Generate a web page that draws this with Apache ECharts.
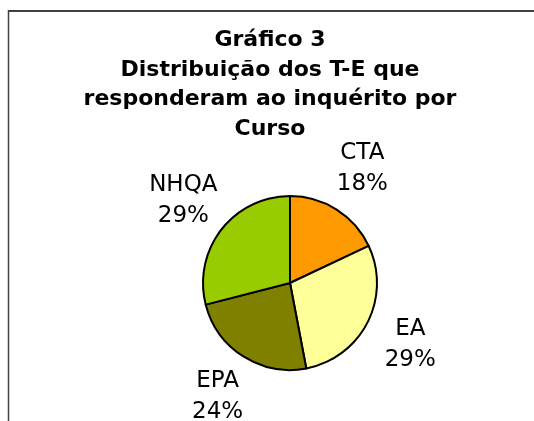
<!DOCTYPE html>
<html>
<head>
<meta charset="utf-8">
<script src="https://cdn.jsdelivr.net/npm/echarts@6/dist/echarts.min.js"></script>
<style>
  html, body { margin: 0; padding: 0; background: #fff; }
  #chartDom { width: 534px; height: 421px; }
</style>
</head>
<body>
<div id="chartDom"></div>
<script>
/* dados do gráfico */
const cursos = ['CTA', 'EA', 'EPA', 'NHQA'];
const percentagens = [18, 29, 24, 29];
const cores = ['#FF9900', '#FFFF99', '#808000', '#99CC00'];

const centro = [290, 283];
const raio = 87;
const distLabel = 135;

/* ângulo médio de cada fatia, a partir do topo, sentido horário */
const total = percentagens.reduce((a, b) => a + b, 0);
const angulos = [];
let acum = 0;
percentagens.forEach(v => {
  angulos.push((acum + v / 2) / total * Math.PI * 2);
  acum += v;
});

const chart = echarts.init(document.getElementById('chartDom'));
const option = {
  animation: false,
  title: {
    text: 'Gráfico 3\nDistribuição dos T-E que\nresponderam ao inquérito por\nCurso',
    left: 270,
    textAlign: 'center',
    top: 26,
    padding: 0,
    textStyle: {
      fontFamily: 'DejaVu Sans',
      fontWeight: 'bold',
      fontSize: 22,
      lineHeight: 29.5,
      color: '#000'
    }
  },
  graphic: [
    { type: 'line', shape: { x1: 8, y1: 11, x2: 534, y2: 11 }, style: { stroke: '#404040', lineWidth: 2 } },
    { type: 'line', shape: { x1: 8.5, y1: 10, x2: 8.5, y2: 421 }, style: { stroke: '#404040', lineWidth: 1.5 } }
  ],
  series: [
    {
      type: 'pie',
      center: centro,
      radius: raio,
      startAngle: 90,
      clockwise: true,
      silent: true,
      emphasis: { disabled: true },
      itemStyle: { borderColor: '#000', borderWidth: 2 },
      label: {
        show: true,
        position: 'outside',
        formatter: p => p.name + '\n' + Math.round(p.percent) + '%',
        fontFamily: 'DejaVu Sans',
        fontSize: 23,
        lineHeight: 31,
        color: '#000'
      },
      labelLine: { show: false },
      labelLayout: params => {
        const a = angulos[params.dataIndex];
        return {
          x: centro[0] + distLabel * Math.sin(a),
          y: centro[1] - distLabel * Math.cos(a),
          align: 'center',
          verticalAlign: 'middle'
        };
      },
      data: cursos.map((c, i) => ({ name: c, value: percentagens[i], itemStyle: { color: cores[i] } }))
    }
  ]
};
option && chart.setOption(option);
</script>
</body>
</html>
